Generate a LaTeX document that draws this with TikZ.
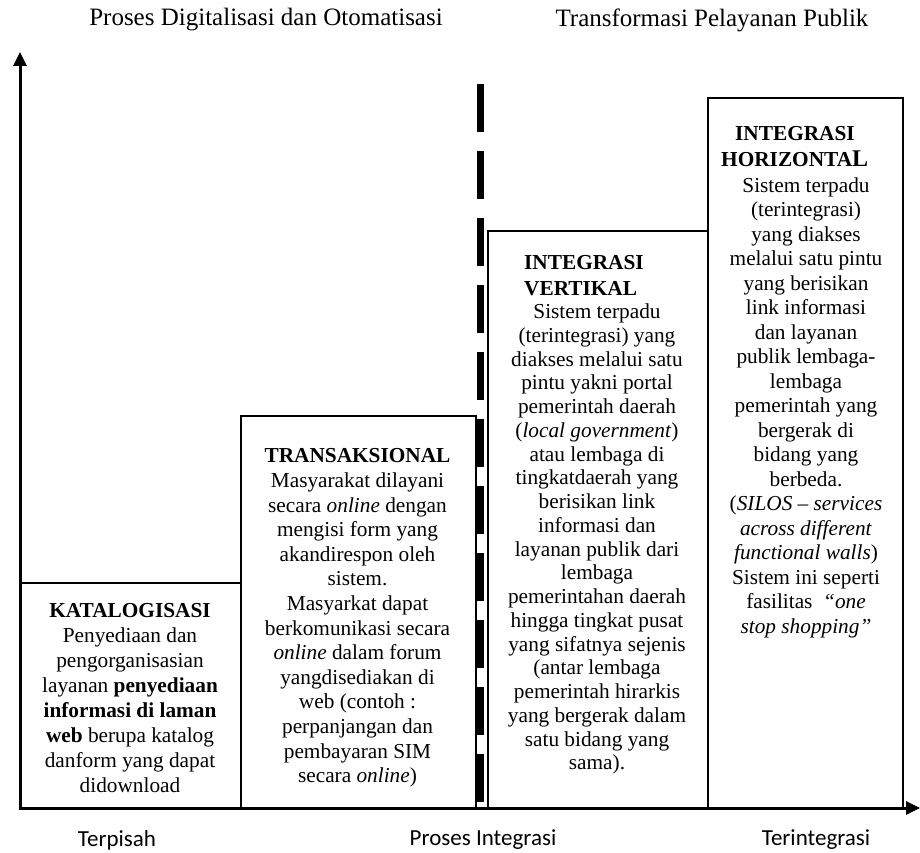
\documentclass[tikz,border=0pt]{standalone}
\usepackage{fontspec}
\setmainfont{Liberation Serif}
\newfontfamily\labelsans{Carlito}
\usetikzlibrary{arrows.meta}
\begin{document}
\begin{tikzpicture}[x=1pt,y=-1pt,
  box/.style={draw, line width=2pt, inner sep=0pt, anchor=north west},
  axis/.style={line width=3pt, -{Triangle[length=14pt,width=13pt]}},
  body/.style={align=center, inner sep=0pt},
  title/.style={align=left, inner sep=0pt, anchor=west, font=\fontsize{21.3}{26}\selectfont\bfseries},
  header/.style={inner sep=0pt, font=\fontsize{25}{25}\selectfont},
  bottomlabel/.style={inner sep=0pt, font=\labelsans\fontsize{23}{23}\selectfont}]
\useasboundingbox (0,0) rectangle (920,853);

% headers
\node[header] (h1) at (266,20) {Proses Digitalisasi dan Otomatisasi};
\node[header] (h2) at (712,20) {Transformasi Pelayanan Publik};

% boxes
\node[box, minimum width=220pt, minimum height=226pt] (kat) at (20,582) {};
\node[box, minimum width=235pt, minimum height=393pt] (trans) at (240,415) {};
\node[box, minimum width=220pt, minimum height=578pt] (vert) at (487,230) {};
\node[box, minimum width=195pt, minimum height=711pt] (horiz) at (707,97) {};

% dashed separator
\coordinate (dtop) at (480.5,84);
\coordinate (dbot) at (480.5,806);
\draw[line width=7pt, dash pattern=on 48pt off 19pt] (dtop) -- (dbot);

% axes
\coordinate (o) at (20,808);
\coordinate (ytip) at (20,52);
\coordinate (xtip) at (920,808);
\draw[axis] ([yshift=-1.5pt]o) -- (ytip);
\draw[axis] ([xshift=-1.5pt]o) -- (xtip);

% texts
\node[body, font=\fontsize{21.3}{25}\selectfont] (katt) at (130,698)
 {\textbf{KATALOGISASI}\\ Penyediaan dan\\ pengorganisasian\\ layanan \textbf{penyediaan}\\ \textbf{informasi di laman}\\ \textbf{web} berupa katalog\\ danform yang dapat\\ didownload};

\node[body, font=\fontsize{21.3}{24.6}\selectfont] (transt) at (357.5,618)
 {\textbf{TRANSAKSIONAL}\\ Masyarakat dilayani\\ secara \textit{online} dengan\\ mengisi form yang\\ akandirespon oleh\\ sistem.\\ Masyarkat dapat\\ berkomunikasi secara\\ \textit{online} dalam forum\\ yangdisediakan di\\ web (contoh :\\ perpanjangan dan\\ pembayaran SIM\\ secara \textit{online})};

\node[title] (vertt) at (524,275.5) {INTEGRASI\\ VERTIKAL};
\node[body, font=\fontsize{21.3}{23.75}\selectfont] (vertb) at (597,539)
 {Sistem terpadu\\ (terintegrasi) yang\\ diakses melalui satu\\ pintu yakni portal\\ pemerintah daerah\\ (\textit{local government})\\ atau lembaga di\\ tingkatdaerah yang\\ berisikan link\\ informasi dan\\ layanan publik dari\\ lembaga\\ pemerintahan daerah\\ hingga tingkat pusat\\ yang sifatnya sejenis\\ (antar lembaga\\ pemerintah hirarkis\\ yang bergerak dalam\\ satu bidang yang\\ sama).};

\node[title] (horizt) at (721,146.5) {\hspace*{14pt}INTEGRASI\\ HORIZONTA{\fontsize{24}{26}\selectfont L}};
\node[body, font=\fontsize{21.3}{24.5}\selectfont] (horizb) at (806,407.5)
 {Sistem terpadu\\ (terintegrasi)\\ yang diakses\\ melalui satu pintu\\ yang berisikan\\ link  informasi\\ dan layanan\\ publik lembaga-\\ lembaga\\ pemerintah yang\\ bergerak di\\ bidang yang\\ berbeda.\\ (\textit{SILOS – services}\\ \textit{across different}\\ \textit{functional walls})\\ Sistem ini seperti\\ fasilitas \ \textit{“one}\\ \textit{stop shopping”}};

% bottom labels
\node[bottomlabel] (l1) at (117,840) {Terpisah};
\node[bottomlabel] (l2) at (483,840) {Proses Integrasi};
\node[bottomlabel] (l3) at (816,840) {Terintegrasi};
\end{tikzpicture}
\end{document}
